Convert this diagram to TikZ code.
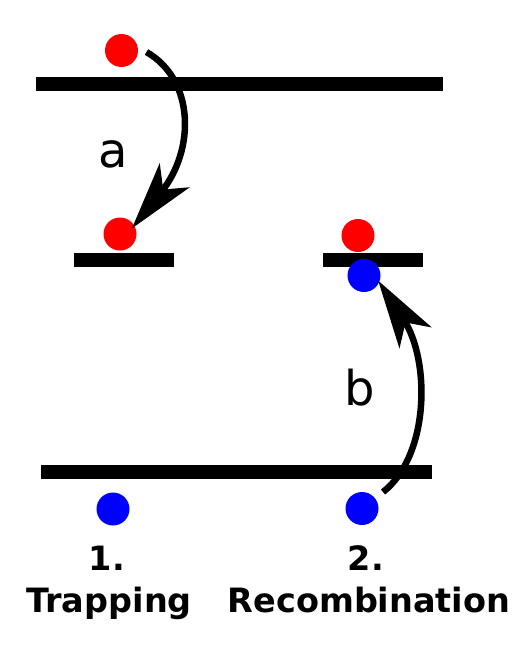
\documentclass[tikz,border=0pt]{standalone}
\usepackage{fontspec}
\setmainfont{DejaVu Sans}
\usetikzlibrary{arrows.meta}
\begin{document}
\begin{tikzpicture}[x=1pt,y=-1pt,
  bar/.style={fill=black,rectangle,inner sep=0pt,minimum height=14pt},
  reddot/.style={circle,fill=red,inner sep=0pt,minimum size=33pt},
  bluedot/.style={circle,fill=blue,inner sep=0pt,minimum size=33pt},
  arr/.style={line width=6.5pt,-{Stealth[length=68pt,width=38pt,inset=18pt]}},
  letter/.style={font=\fontsize{48}{58}\selectfont,inner sep=0pt,anchor=base},
  caption/.style={font=\fontsize{33.5}{42}\selectfont\bfseries,inner sep=0pt,anchor=base}]
\useasboundingbox (0,0) rectangle (527,648);
% levels
\node[bar,minimum width=407pt] (cb) at (239.5,83.5) {};
\node[bar,minimum width=100pt] (trapL) at (124,259.5) {};
\node[bar,minimum width=100pt] (trapR) at (373,259.5) {};
\node[bar,minimum width=391pt] (vb) at (236.5,472) {};
% carriers
\node[reddot] (rt) at (121.5,50.5) {};
\node[reddot] (rl) at (120,234) {};
\node[reddot] (rr) at (358,235.5) {};
\node[bluedot] (bu) at (364,275.5) {};
\node[bluedot] (bl) at (113,509) {};
\node[bluedot] (br) at (362,508.5) {};
% transitions
\draw[arr,shorten <=10pt,shorten >=-4pt] (rt.12) .. controls (195,80) and (195,150) .. (rl.31);
\draw[arr,shorten <=10pt,shorten >=-2pt] (br.38) .. controls (430,455) and (430,360) .. (bu.-24);
% labels
\node[letter] (la) at (113.5,167) {a};
\node[letter] (lb) at (360,405) {b};
\node[caption] (n1) at (107,570) {1.};
\node[caption] (t1) at (109,612) {Trapping};
\node[caption] (n2) at (366,570) {2.};
\node[caption] (t2) at (369,612) {Recombination};
\end{tikzpicture}
\end{document}
